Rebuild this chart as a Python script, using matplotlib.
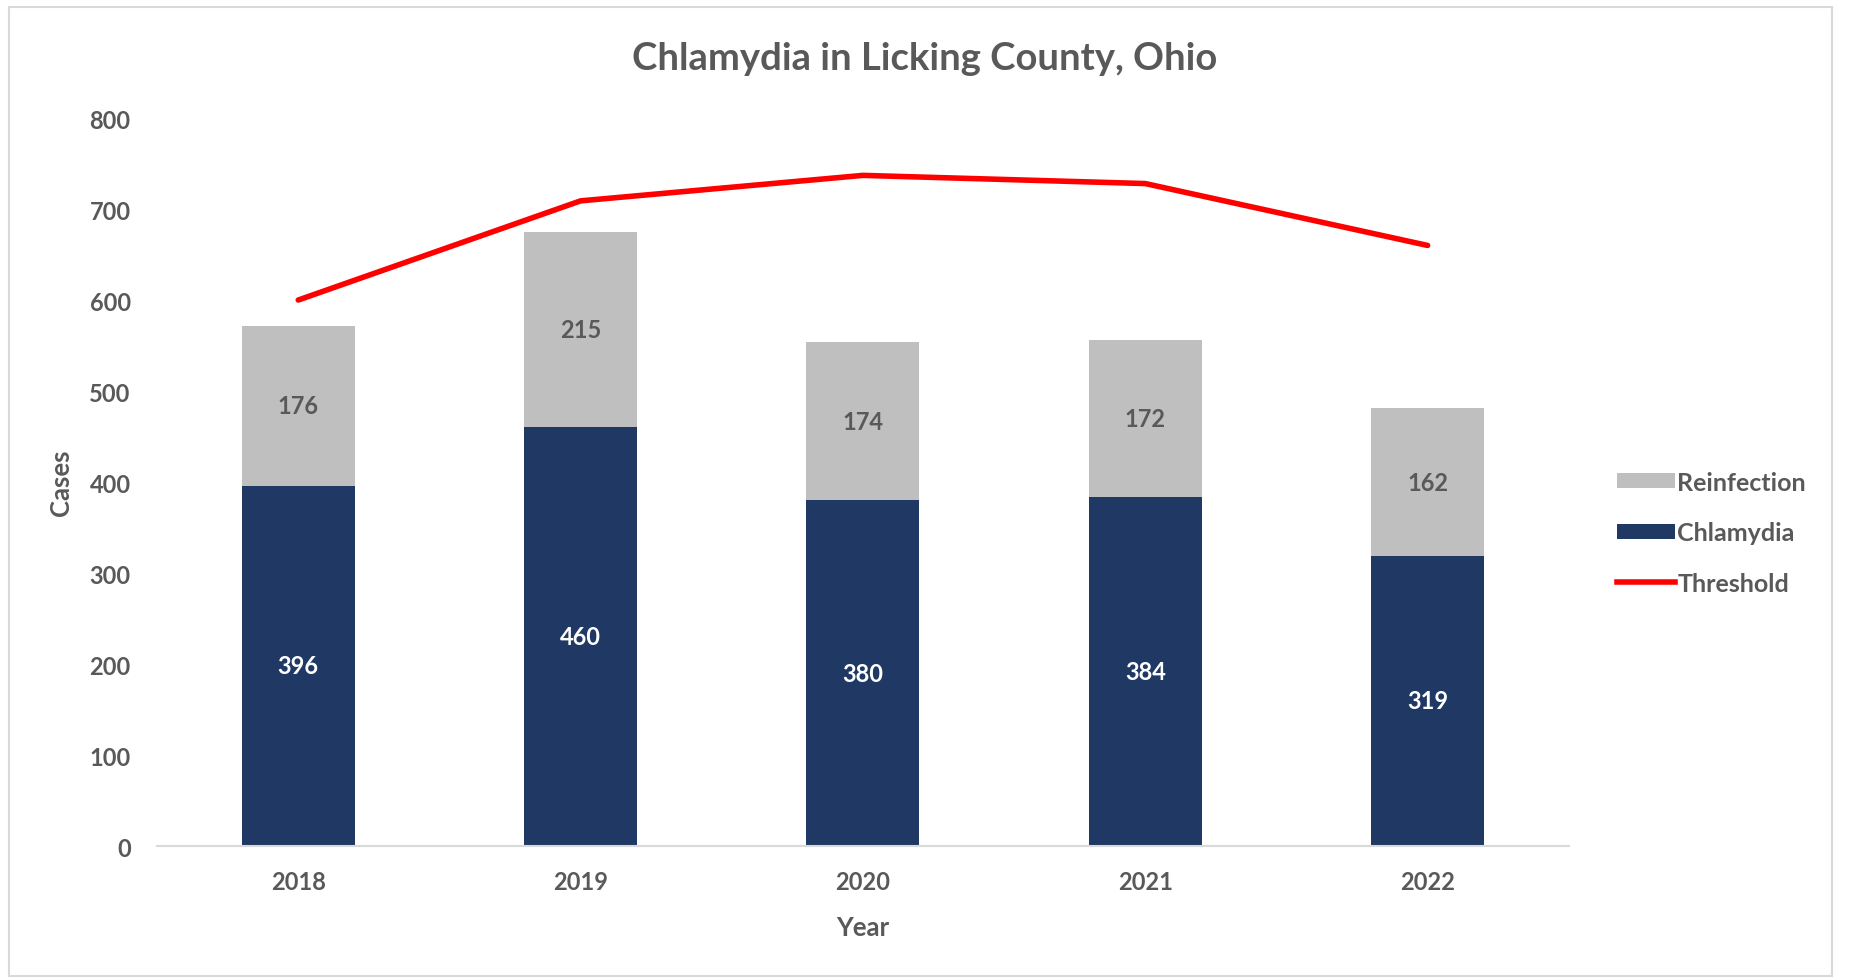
import matplotlib
matplotlib.use("Agg")
import matplotlib.pyplot as plt
from matplotlib.patches import Rectangle
from matplotlib.lines import Line2D
from matplotlib.patches import Patch

years = ["2018", "2019", "2020", "2021", "2022"]
chlamydia = [396, 460, 380, 384, 319]
reinfection = [176, 215, 174, 172, 162]
threshold = [600, 709, 737, 728, 660]

navy = "#1F3864"
gray_bar = "#BFBFBF"
red = "#FF0000"
txt = "#595959"

plt.rcParams['font.family'] = ['Lato', 'DejaVu Sans']
plt.rcParams['font.weight'] = 'bold'

fig = plt.figure(figsize=(18.5, 9.79), dpi=100)
ax = fig.add_axes([0.0849, 0.1348, 0.848 - 0.0849, 0.8784 - 0.1348])

x = list(range(len(years)))
ax.bar(x, chlamydia, width=0.4, color=navy, label="Chlamydia", zorder=2)
ax.bar(x, reinfection, width=0.4, bottom=chlamydia, color=gray_bar, label="Reinfection", zorder=2)
ax.plot(x, threshold, color=red, lw=4, label="Threshold", zorder=3, solid_capstyle='round')

for i in x:
    ax.text(i, chlamydia[i] / 2, str(chlamydia[i]), ha='center', va='center',
            color='white', fontsize=17, fontweight='bold')
    ax.text(i, chlamydia[i] + reinfection[i] / 2, str(reinfection[i]), ha='center', va='center',
            color=txt, fontsize=17, fontweight='bold')

ax.set_xlim(-0.5, 4.5)
ax.set_ylim(0, 800)
ax.set_yticks(range(0, 801, 100))
ax.set_xticks(x)
ax.set_xticklabels(years)
for s in ['top', 'right', 'left']:
    ax.spines[s].set_visible(False)
ax.spines['bottom'].set_color('#D9D9D9')
ax.spines['bottom'].set_linewidth(1.5)
ax.tick_params(axis='both', length=0, labelsize=17, labelcolor=txt)
ax.tick_params(axis='y', pad=19)
ax.tick_params(axis='x', pad=17)
for lab in ax.get_xticklabels() + ax.get_yticklabels():
    lab.set_fontweight('bold')

ax.set_xlabel("Year", fontsize=18.5, color=txt, fontweight='bold', labelpad=16)
ax.set_ylabel("Cases", fontsize=18.5, color=txt, fontweight='bold', labelpad=12)
fig.text(0.5, 0.94, "Chlamydia in Licking County, Ohio", fontsize=27.5, color=txt,
         fontweight='bold', ha='center', va='center')

handles = [Patch(facecolor=gray_bar, label="Reinfection"),
           Patch(facecolor=navy, label="Chlamydia"),
           Line2D([0], [0], color=red, lw=4, label="Threshold")]
fig.legend(handles=handles, loc='center left', bbox_to_anchor=(0.862, 0.455),
           frameon=False, fontsize=18, handlelength=2.3, handleheight=0.55,
           labelspacing=1.1, handletextpad=0.1, labelcolor=txt)

fig.patches.append(Rectangle((0.005, 0.002), 0.985, 0.99, transform=fig.transFigure,
                             fill=False, edgecolor='#D9D9D9', lw=1.5))

fig.savefig("out.png", dpi=100, facecolor='white')
